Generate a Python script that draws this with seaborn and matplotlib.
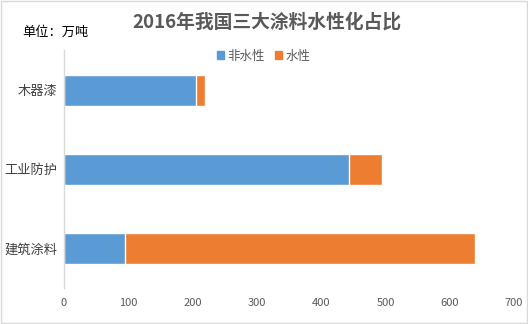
import matplotlib
matplotlib.use("Agg")
import matplotlib.pyplot as plt
import seaborn as sns
import pandas as pd
from matplotlib.patches import Patch

categories = ["木器漆", "工业防护", "建筑涂料"]
non_water = [206, 444, 95]
water = [13, 50, 545]
xticks = [0, 100, 200, 300, 400, 500, 600, 700]

sns.set_style("white")
plt.rcParams['font.family'] = ['Noto Sans CJK SC', 'DejaVu Sans']

df = pd.DataFrame({"cat": categories, "non": non_water, "water": water})
df["total"] = df["non"] + df["water"]

fig = plt.figure(figsize=(5.28, 3.24), dpi=100)
ax = fig.add_axes([64/528, 1-288/324, 450/528, 237.5/324])

blue = "#5B9BD5"
orange = "#ED7D31"
sns.barplot(data=df, x="total", y="cat", color=orange, width=0.39, ax=ax, saturation=1)
sns.barplot(data=df, x="non", y="cat", color=blue, width=0.39, ax=ax, saturation=1)

ax.set_xlim(0, 700)
ax.set_xticks(xticks)
ax.set_xticklabels([str(t) for t in xticks], color="#595959", fontsize=8)
ax.set_xlabel("")
ax.set_ylabel("")
ax.tick_params(axis='y', labelsize=9.5, colors="#595959", length=0, pad=5)
ax.tick_params(axis='x', length=0, pad=7)
for lbl in ax.get_yticklabels():
    lbl.set_color("#404040")
for s in ["top", "right", "bottom"]:
    ax.spines[s].set_visible(False)
ax.spines["left"].set_color("#D9D9D9")
ax.spines["left"].set_linewidth(1)

fig.text(267/528, 1-22/324, "2016年我国三大涂料水性化占比", ha="center", va="center",
         fontsize=13.5, fontweight="bold", color="#595959")
fig.text(22/528, 1-32/324, "单位：万吨", ha="left", va="center", fontsize=9.5, color="black")

handles = [Patch(color=blue, label="非水性"), Patch(color=orange, label="水性")]
fig.legend(handles=handles, loc="center", bbox_to_anchor=(264/528, 1-56/324), ncol=2,
           frameon=False, fontsize=9, handlelength=0.55, handleheight=0.55,
           handletextpad=0.3, columnspacing=0.8, labelcolor="#595959")

# outer border
fig.patches.append(plt.Rectangle((0.002, 0.003), 0.996, 0.994, transform=fig.transFigure,
                                 fill=False, edgecolor="#D9D9D9", linewidth=1))

fig.savefig("out.png", dpi=100)
